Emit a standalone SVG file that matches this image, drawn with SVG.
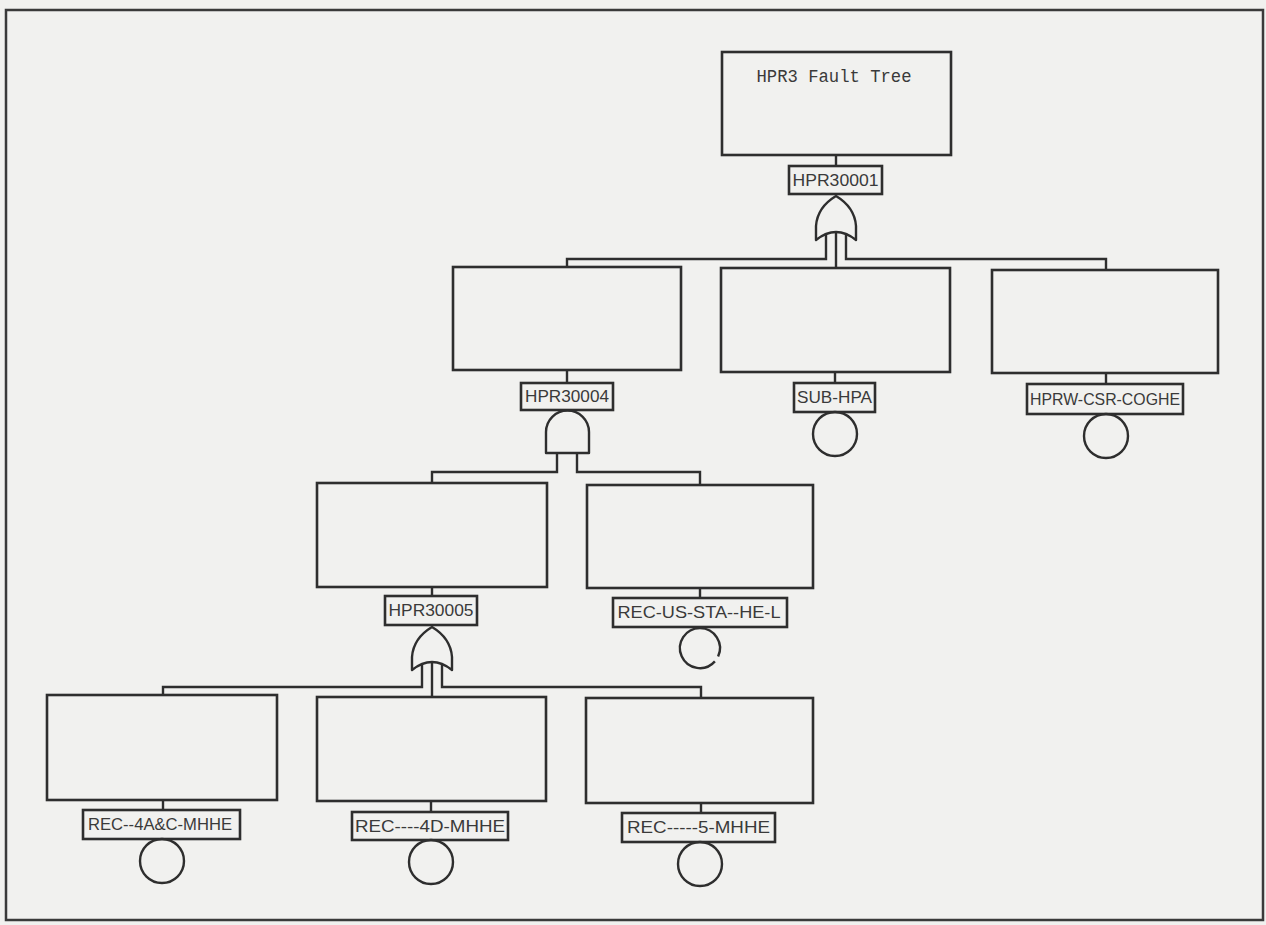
<svg xmlns="http://www.w3.org/2000/svg" width="1266" height="925" viewBox="0 0 1266 925">
<style>
.bg{fill:#f1f1ef}
.frame{fill:none;stroke:#3a3a3a;stroke-width:2.5}
.box{fill:none;stroke:#2e2e2e;stroke-width:2.6}
.lbl{fill:none;stroke:#2e2e2e;stroke-width:2.6}
.ln{fill:none;stroke:#2e2e2e;stroke-width:2.4}
.gate{fill:none;stroke:#2e2e2e;stroke-width:2.4;stroke-linejoin:round}
.ev{fill:none;stroke:#2e2e2e;stroke-width:2.4}
.t{font-family:"Liberation Sans",Arial,sans-serif;font-size:17px;fill:#3a3a3a;text-anchor:middle}
.title{font-family:"Liberation Mono","DejaVu Sans Mono",monospace;font-size:18px;fill:#3a3a3a;text-anchor:middle}
</style>
<rect class="bg" x="0" y="0" width="1266" height="925"/>
<rect class="frame" x="6" y="10" width="1257" height="910"/>

<g id="connectors">
  <line class="ln" x1="836" y1="155" x2="836" y2="166"/>
  <path class="ln" d="M826 233 V259 H567 V268"/>
  <path class="ln" d="M846 233 V259 H1106 V270"/>
  <line class="ln" x1="836" y1="231" x2="836" y2="268"/>
  <line class="ln" x1="567" y1="370" x2="567" y2="383"/>
  <line class="ln" x1="835" y1="372" x2="835" y2="383"/>
  <line class="ln" x1="1106" y1="373" x2="1106" y2="384"/>
  <path class="ln" d="M557 453 V472 H432 V483"/>
  <path class="ln" d="M577 453 V472 H700 V485"/>
  <line class="ln" x1="432" y1="587" x2="432" y2="596"/>
  <line class="ln" x1="700" y1="588" x2="700" y2="598"/>
  <path class="ln" d="M422 664 V687 H163 V695"/>
  <path class="ln" d="M442 664 V687 H701 V698"/>
  <line class="ln" x1="432" y1="662" x2="432" y2="697"/>
  <line class="ln" x1="163" y1="800" x2="163" y2="810"/>
  <line class="ln" x1="431" y1="801" x2="431" y2="812"/>
  <line class="ln" x1="701" y1="803" x2="701" y2="813"/>
</g>

<g id="top">
  <rect class="box" x="722" y="52" width="229" height="103"/>
  <text class="title" x="834" y="82" textLength="155" lengthAdjust="spacingAndGlyphs">HPR3 Fault Tree</text>
</g>
<g id="HPR30001">
  <rect class="lbl" x="789" y="166" width="93" height="28"/>
  <text class="t" x="835.5" y="186" textLength="86" lengthAdjust="spacingAndGlyphs">HPR30001</text>
  <path class="gate" d="M836 196 C846 202 855 212 856 226 L856 240 Q836 224 816 240 L816 226 C817 212 826 202 836 196 Z"/>
</g>

<g id="HPR30004">
  <rect class="box" x="453" y="267" width="228" height="103"/>
  <rect class="lbl" x="521" y="383" width="92" height="27"/>
  <text class="t" x="567" y="402" textLength="84" lengthAdjust="spacingAndGlyphs">HPR30004</text>
  <path class="gate" d="M546 453 V432 A21.5 21.5 0 0 1 589 432 V453 Z"/>
</g>

<g id="SUB-HPA">
  <rect class="box" x="721" y="268" width="229" height="104"/>
  <rect class="lbl" x="794" y="383" width="81" height="29"/>
  <text class="t" x="834.5" y="403" textLength="75" lengthAdjust="spacingAndGlyphs">SUB-HPA</text>
  <circle class="ev" cx="835" cy="434" r="22"/>
</g>

<g id="HPRW-CSR-COGHE">
  <rect class="box" x="992" y="270" width="226" height="103"/>
  <rect class="lbl" x="1027" y="384" width="156" height="30"/>
  <text class="t" x="1105" y="405" textLength="150" lengthAdjust="spacingAndGlyphs">HPRW-CSR-COGHE</text>
  <circle class="ev" cx="1106" cy="436" r="22"/>
</g>

<g id="HPR30005">
  <rect class="box" x="317" y="483" width="230" height="104"/>
  <rect class="lbl" x="385" y="596" width="92" height="29"/>
  <text class="t" x="431" y="616" textLength="85" lengthAdjust="spacingAndGlyphs">HPR30005</text>
  <path class="gate" d="M432 627 C442 633 451 643 452 657 L452 670 Q432 654 412 670 L412 657 C413 643 422 633 432 627 Z"/>
</g>

<g id="REC-US-STA--HE-L">
  <rect class="box" x="587" y="485" width="226" height="103"/>
  <rect class="lbl" x="613" y="598" width="174" height="29"/>
  <text class="t" x="699" y="618" textLength="163" lengthAdjust="spacingAndGlyphs">REC-US-STA--HE-L</text>
  <path class="ev" d="M714.9 661.4 A20 20 0 1 1 718.1 656.5"/>
</g>

<g id="REC--4A-C-MHHE">
  <rect class="box" x="47" y="695" width="230" height="105"/>
  <rect class="lbl" x="83" y="810" width="157" height="29"/>
  <text class="t" x="160" y="830" textLength="144" lengthAdjust="spacingAndGlyphs">REC--4A&amp;C-MHHE</text>
  <circle class="ev" cx="162" cy="861" r="22"/>
</g>

<g id="REC----4D-MHHE">
  <rect class="box" x="317" y="697" width="229" height="104"/>
  <rect class="lbl" x="352" y="812" width="156" height="28"/>
  <text class="t" x="430" y="832" textLength="150" lengthAdjust="spacingAndGlyphs">REC----4D-MHHE</text>
  <circle class="ev" cx="431" cy="862" r="22"/>
</g>

<g id="REC-----5-MHHE">
  <rect class="box" x="586" y="698" width="227" height="105"/>
  <rect class="lbl" x="622" y="813" width="153" height="29"/>
  <text class="t" x="698.5" y="833" textLength="143" lengthAdjust="spacingAndGlyphs">REC-----5-MHHE</text>
  <circle class="ev" cx="700" cy="864" r="22"/>
</g>
</svg>
